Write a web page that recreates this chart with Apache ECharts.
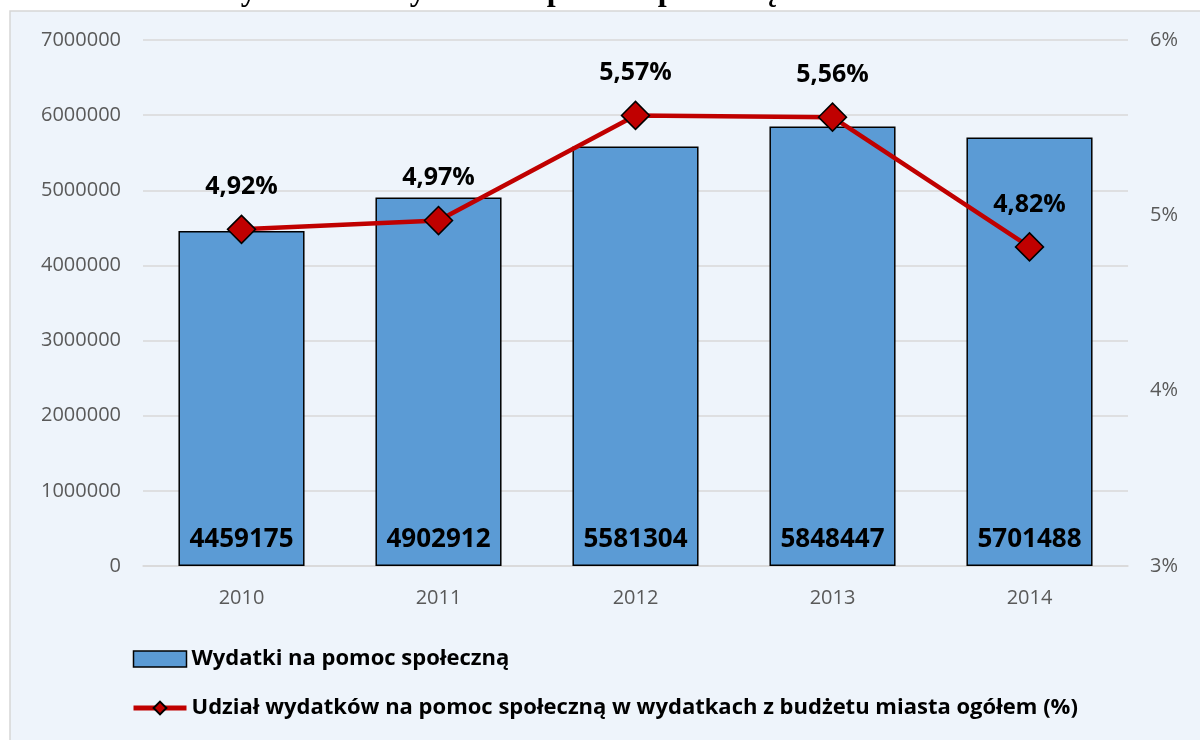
<!DOCTYPE html>
<html>
<head>
<meta charset="utf-8">
<script src="https://cdn.jsdelivr.net/npm/echarts@6/dist/echarts.min.js"></script>
<style>
html,body{margin:0;padding:0;background:#fff;}
#chart{width:1200px;height:740px;}
</style>
</head>
<body>
<div id="chart"></div>
<script>
var years = ['2010', '2011', '2012', '2013', '2014'];
var wydatki = [4459175, 4902912, 5581304, 5848447, 5701488];
var udzial = [4.92, 4.97, 5.57, 5.56, 4.82];
var barName = 'Wydatki na pomoc społeczną';
var lineName = 'Udział wydatków na pomoc społeczną w wydatkach z budżetu miasta ogółem (%)';
var titleText = 'Wykres 1.5. Wydatki na pomoc społeczną z budżetu miasta';

var font = '"Open Sans", "Noto Sans", sans-serif';

var chart = echarts.init(document.getElementById('chart'));
chart.setOption({
	animation: false,
	backgroundColor: '#ffffff',
	graphic: [{
		type: 'rect',
		z: -10,
		shape: {x: 10, y: 11, width: 1200, height: 740},
		style: {fill: '#EEF4FB', stroke: '#D6D6D6', lineWidth: 1.5}
	}, {
		type: 'text',
		z: -20,
		style: {
			x: 613, y: 8,
			text: titleText,
			textAlign: 'center',
			textVerticalAlign: 'bottom',
			font: 'bold 32px "Liberation Serif", "DejaVu Serif", serif',
			fill: '#000'
		}
	}],
	grid: {left: 143, right: 72, top: 40, bottom: 174},
	legend: {
		orient: 'vertical',
		left: 126,
		top: 643,
		itemGap: 27,
		itemWidth: 53,
		itemHeight: 16,
		textStyle: {fontFamily: font, fontWeight: 'bold', fontSize: 22, color: '#000'},
		data: [
			{name: barName, icon: 'rect', itemStyle: {color: '#5B9BD5', borderColor: '#000', borderWidth: 1.5}},
			{name: lineName, lineStyle: {color: '#C00000', width: 5}}
		]
	},
	xAxis: {
		type: 'category',
		data: years,
		axisTick: {show: false},
		axisLine: {lineStyle: {color: '#D9D9D9', width: 1.5}},
		axisLabel: {color: '#595959', fontFamily: font, fontSize: 20, margin: 22}
	},
	yAxis: [{
		type: 'value',
		min: 0,
		max: 7000000,
		interval: 1000000,
		axisLabel: {color: '#595959', fontFamily: font, fontSize: 20, margin: 22, formatter: function (v) { return String(v); }},
		splitLine: {lineStyle: {color: '#D9D9D9', width: 1.5}}
	}, {
		type: 'value',
		min: 3,
		max: 6,
		interval: 1,
		position: 'right',
		splitLine: {show: false},
		axisLabel: {color: '#595959', fontFamily: font, fontSize: 20, margin: 22, formatter: '{value}%'}
	}],
	series: [{
		name: barName,
		type: 'bar',
		data: wydatki,
		barWidth: '64%',
		itemStyle: {color: '#5B9BD5', borderColor: '#000', borderWidth: 1.5},
		label: {
			show: true,
			position: 'insideBottom',
			distance: 13,
			color: '#000',
			fontFamily: font,
			fontWeight: 'bold',
			fontSize: 26
		}
	}, {
		name: lineName,
		type: 'line',
		yAxisIndex: 1,
		data: udzial,
		symbol: 'diamond',
		symbolSize: 28,
		lineStyle: {color: '#C00000', width: 4.5},
		itemStyle: {color: '#C00000', borderColor: '#000', borderWidth: 1.5},
		label: {
			show: true,
			position: 'top',
			distance: 15,
			color: '#000',
			fontFamily: font,
			fontWeight: 'bold',
			fontSize: 25,
			formatter: function (p) { return p.value.toFixed(2).replace('.', ',') + '%'; }
		}
	}]
});
</script>
</body>
</html>
